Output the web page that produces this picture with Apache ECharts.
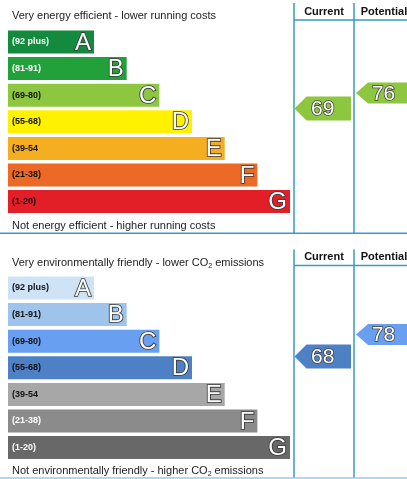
<!DOCTYPE html>
<html><head><meta charset="utf-8">
<script src="https://cdn.jsdelivr.net/npm/echarts@6.0.0/dist/echarts.min.js"></script>
<style>html,body{margin:0;padding:0;background:#fff}#c{width:407px;height:479px}</style>
</head><body><div id="c"></div>
<script>
// ---- data ----
const bandLetters = ['A', 'B', 'C', 'D', 'E', 'F', 'G'];
const bandRanges = ['(92 plus)', '(81-91)', '(69-80)', '(55-68)', '(39-54', '(21-38)', '(1-20)'];
const bandLower = [92, 81, 69, 55, 39, 21, 1];
const bandUpper = [100, 91, 80, 68, 54, 38, 20];
const bandRank = [1, 2, 3, 4, 5, 6, 7];
const columnLabels = ['Current', 'Potential'];
const energyValues = [69, 76];
const envValues = [68, 78];
const energyTexts = ['Very energy efficient - lower running costs', 'Not energy efficient - higher running costs'];
const envTexts = ['Very environmentally friendly - lower CO₂ emissions', 'Not environmentally friendly - higher CO₂ emissions'];

// ---- styles ----
const energyColors = ['#138a3e', '#22a03a', '#8dc63f', '#fff200', '#f6ae21', '#ec6a25', '#e21f26'];
const energyLabelColors = ['#fff', '#fff', '#111', '#111', '#111', '#111', '#111'];
const envColors = ['#cfe3f6', '#9fc4ec', '#689ff0', '#4e80c6', '#a7a7a7', '#8b8b8b', '#686868'];
const envLabelColors = ['#111', '#111', '#111', '#111', '#111', '#fff', '#fff'];
const FONT = '"Liberation Sans", Arial, sans-serif';
const LINE = '#3a9bc1';
const X_MIN = -1.633, X_MAX = 9;
const COL_W = 60;

function bandIndexOf(v) {
  for (let i = 0; i < bandLower.length; i++) if (v >= bandLower[i]) return i;
  return bandLower.length - 1;
}
function valuePos(v) {
  const i = bandIndexOf(v);
  return i - 0.5 + (bandUpper[i] + 1 - v) / (bandUpper[i] + 1 - bandLower[i]);
}

function bandSeries(axisIdx, colors, labelColors) {
  return {
    type: 'custom', xAxisIndex: axisIdx, yAxisIndex: axisIdx, silent: true,
    data: bandRank.map((r, i) => [r, i]),
    renderItem: (params, api) => {
      const i = params.dataIndex;
      const y = api.value(1);
      const end = api.coord([api.value(0), y]);
      const start = api.coord([X_MIN, y]);
      const h = api.size([0, 1])[1] * 0.865;
      return {
        type: 'group', children: [
          { type: 'rect', shape: { x: start[0], y: end[1] - h / 2, width: end[0] - start[0], height: h }, style: { fill: colors[i] } },
          { type: 'text', x: start[0] + 4, y: end[1], style: { text: bandRanges[i], fill: labelColors[i], fontFamily: FONT, fontWeight: 'bold', fontSize: 9, align: 'left', verticalAlign: 'middle' } },
          { type: 'text', x: end[0] - 3, y: end[1] + 1, style: { text: bandLetters[i], fill: '#fff', stroke: '#3a3a3a', lineWidth: 1.7, fontFamily: FONT, fontSize: 24, align: 'right', verticalAlign: 'middle' } }
        ]
      };
    }
  };
}

function arrowSeries(axisIdx, values, colors) {
  return {
    type: 'custom', xAxisIndex: axisIdx, yAxisIndex: axisIdx, silent: true,
    data: values.map((v, c) => [c, valuePos(v), v]),
    renderItem: (params, api) => {
      const c = api.value(0);
      const v = api.value(2);
      const p = api.coord([c, api.value(1)]);
      const bw = api.size([1, 0])[0];
      const left = p[0];
      const tip = left + (c === 0 ? 0.5 : 2);
      const right = left + bw - 3;
      const h = c === 0 ? 24 : 21;
      const cy = p[1];
      return {
        type: 'group', children: [
          { type: 'polygon', shape: { points: [[tip, cy], [tip + 12, cy - h / 2], [right, cy - h / 2], [right, cy + h / 2], [tip + 12, cy + h / 2]] }, style: { fill: colors[bandIndexOf(v)] } },
          { type: 'text', x: (tip + right) / 2, y: cy + 1, style: { text: String(v), fill: '#fff', stroke: '#444', lineWidth: 1.6, fontFamily: FONT, fontSize: 21, align: 'center', verticalAlign: 'middle' } }
        ]
      };
    }
  };
}

function richify(t) { return t.replace('₂', '{sub|2}'); }
function titleText(t, y) {
  return { type: 'text', x: 12, y: y, style: { text: richify(t), fill: '#222', fontFamily: FONT, fontSize: 11, verticalAlign: 'middle', align: 'left',
    rich: { sub: { fontSize: 7, fontFamily: FONT, fill: '#222', padding: [7, 0, 0, 0] } } } };
}
function hline(x1, x2, y, color) { return { type: 'line', shape: { x1: x1, y1: y, x2: x2, y2: y }, style: { stroke: color || LINE, lineWidth: 1.5 } }; }
function vline(x, y1, y2) { return { type: 'line', shape: { x1: x, y1: y1, x2: x, y2: y2 }, style: { stroke: LINE, lineWidth: 1.5 } }; }
function header(c, y) {
  return { type: 'text', x: 294 + COL_W * c + 30, y: y, style: { text: columnLabels[c], fill: '#111', fontFamily: FONT, fontWeight: 'bold', fontSize: 11, align: 'center', verticalAlign: 'middle' } };
}

const TOP1 = 28.7, TOP2 = 274.7, GH = 186.2, GW = (X_MAX - X_MIN) * 32.67;
const COLS_W = 407 - 294;
const grids = [
  { left: 8, top: TOP1, width: GW, height: GH },
  { left: 294, top: TOP1, width: COLS_W, height: GH },
  { left: 8, top: TOP2, width: GW, height: GH },
  { left: 294, top: TOP2, width: COLS_W, height: GH }
];
const xAxes = [0, 1, 2, 3].map(g => g % 2 === 0
  ? { type: 'value', gridIndex: g, min: X_MIN, max: X_MAX, show: false }
  : { type: 'value', gridIndex: g, min: 0, max: COLS_W / COL_W, show: false });
const yAxes = [0, 1, 2, 3].map(g => ({ type: 'value', gridIndex: g, min: -0.5, max: 6.5, inverse: true, show: false }));

const chart = echarts.init(document.getElementById('c'), null, { renderer: 'canvas' });
chart.setOption({
  animation: false,
  backgroundColor: '#fff',
  grid: grids, xAxis: xAxes, yAxis: yAxes,
  graphic: { elements: [
    titleText(energyTexts[0], 16), titleText(energyTexts[1], 226.3),
    titleText(envTexts[0], 262.5), titleText(envTexts[1], 470.6),
    vline(294, 3, 233.5), vline(354, 3, 233.5), hline(294, 407, 20), hline(0, 407, 233.3),
    vline(294, 249.5, 478), vline(354, 249.5, 478), hline(294, 407, 265.5), hline(0, 407, 478, '#8fcfe6'),
    header(0, 11.7), header(1, 11.7), header(0, 256.7), header(1, 256.7)
  ] },
  series: [
    bandSeries(0, energyColors, energyLabelColors),
    arrowSeries(1, energyValues, energyColors),
    bandSeries(2, envColors, envLabelColors),
    arrowSeries(3, envValues, envColors)
  ]
});
</script></body></html>
